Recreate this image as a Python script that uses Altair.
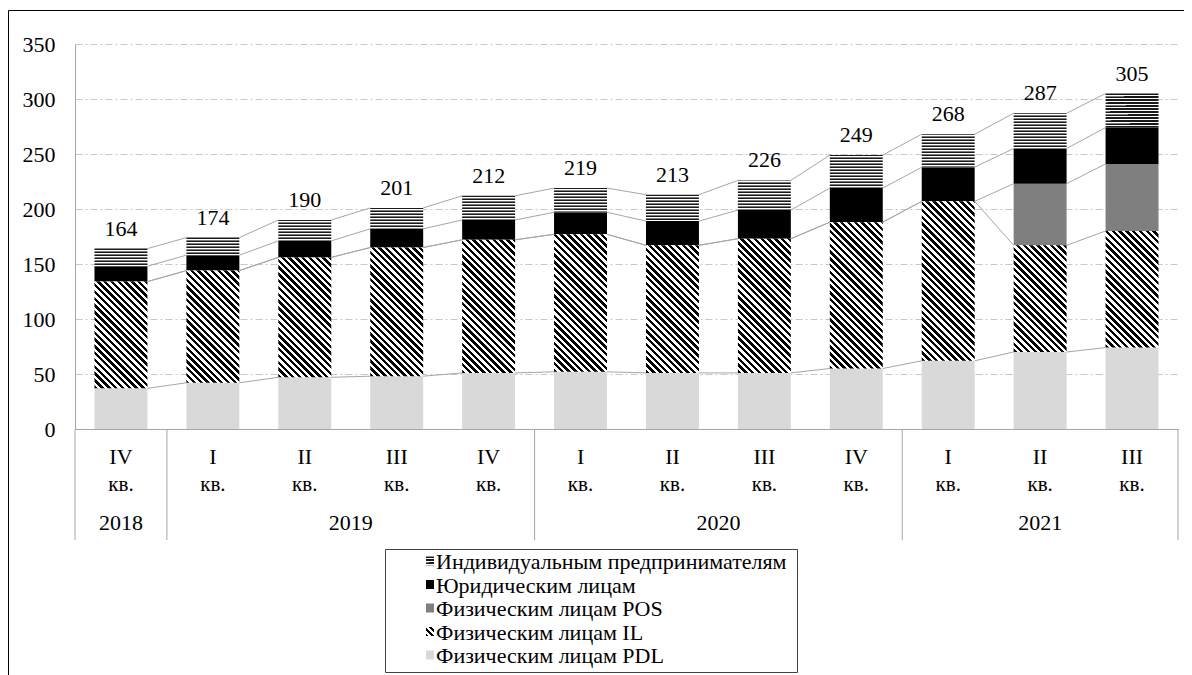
import math
import altair as alt
import pandas as pd

# ---------------- data ----------------
quarters = ["IV", "I", "II", "III", "IV", "I", "II", "III", "IV", "I", "II", "III"]
years = ["2018", "2019", "2019", "2019", "2019", "2020", "2020", "2020", "2020", "2021", "2021", "2021"]
pdl_values = [37, 42, 47, 48, 51, 52, 51, 51, 55, 62, 70, 74]
il_values = [97, 102, 109, 117, 121, 125, 116, 122, 133, 145, 97, 106]
pos_values = [0, 0, 0, 0, 0, 0, 0, 0, 0, 0, 56, 61]
legal_values = [14, 14, 15, 17, 18, 20, 22, 26, 31, 31, 32, 33]
ie_values = [16, 16, 19, 19, 22, 22, 24, 27, 30, 30, 32, 31]
total_labels = [164, 174, 190, 201, 212, 219, 213, 226, 249, 268, 287, 305]
series_names = [
    "Физическим лицам PDL",
    "Физическим лицам IL",
    "Физическим лицам POS",
    "Юридическим лицам",
    "Индивидуальным предпринимателям",
]
quarter_suffix = "кв."
y_ticks = [0, 50, 100, 150, 200, 250, 300, 350]

# ---------------- layout / style ----------------
W, H = 1103, 385
PAD = {"left": 67, "top": 36, "right": 6, "bottom": 246}
Y_MAX = 350
PX = H / Y_MAX
N = len(quarters)
HALF = 0.288
BAR_PX = 2 * HALF * W / N
FONT = "Liberation Serif, Times New Roman, serif"
FS = 22
LINE_GRAY = "#a6a6a6"
PDL_COLOR = "#d9d9d9"
POS_COLOR = "#7f7f7f"

xscale = alt.Scale(domain=[0, N], nice=False, zero=False)
yscale = alt.Scale(domain=[0, Y_MAX], nice=False, zero=True)


def stripe_stops(n_periods, pattern):
    stops = []
    for j in range(math.ceil(n_periods)):
        acc = j / n_periods
        for color, frac in pattern:
            end = acc + frac / n_periods
            stops.append({"offset": round(min(acc, 1.0), 5), "color": color})
            stops.append({"offset": round(min(end, 1.0), 5), "color": color})
            acc = end
    return stops


def diag_fill(w, h, period=4.8):
    # "\" stripes at 45 degrees for an objectBoundingBox linear gradient
    s = (w + h) / (w * w + h * h)
    n = (w + h) / math.sqrt(2) / period
    return {
        "gradient": "linear",
        "x1": 0, "y1": 1,
        "x2": round(w * s, 5), "y2": round(1 - h * s, 5),
        "stops": stripe_stops(n, [("#000000", 0.5), ("#ffffff", 0.5)]),
    }


def hline_fill(h, period=3.0):
    n = h / period
    return {
        "gradient": "linear",
        "x1": 0, "y1": 0, "x2": 0.00001, "y2": 1,
        "stops": stripe_stops(n, [("#1a1a1a", 0.34), ("#ffffff", 0.33), ("#7a7a7a", 0.33)]),
    }


# ---------------- tables ----------------
series_values = [pdl_values, il_values, pos_values, legal_values, ie_values]
rows = []
for i in range(N):
    lo = 0
    for name, vals in zip(series_names, series_values):
        v = vals[i]
        rows.append({"idx": i, "series": name, "lo": lo, "hi": lo + v, "value": v})
        lo += v
seg_df = pd.DataFrame(rows)
seg_df["xl"] = seg_df["idx"] + 0.5 - HALF
seg_df["xr"] = seg_df["idx"] + 0.5 + HALF

tops = seg_df.pivot(index="idx", columns="series", values="hi")
link_rows = []
for name in series_names:
    for i in range(N - 1):
        link_rows.append({
            "series": name,
            "xa": i + 0.5 + HALF, "xb": i + 1.5 - HALF,
            "ya": float(tops.loc[i, name]), "yb": float(tops.loc[i + 1, name]),
        })
link_df = pd.DataFrame(link_rows)

cat_df = pd.DataFrame({
    "idx": list(range(N)),
    "q": quarters,
    "year": years,
    "total": total_labels,
    "kv": [quarter_suffix] * N,
})
cat_df["xc"] = cat_df["idx"] + 0.5

sep_x = [0] + [i for i in range(1, N) if years[i] != years[i - 1]] + [N]
sep_df = pd.DataFrame({"xs": sep_x})
one_df = pd.DataFrame({"k": [0]})

# ---------------- axes ----------------
yaxis = alt.Axis(
    values=y_ticks, grid=True, gridColor="#c8c8c8", gridDash=[7, 3, 2, 3], gridWidth=1,
    domain=True, domainColor=LINE_GRAY, domainWidth=1, ticks=False, labelPadding=20,
    labelFont=FONT, labelFontSize=FS, labelColor="black", labelFlush=False,
    labelOverlap=False, title=None,
)
xaxis = alt.Axis(labels=False, ticks=False, grid=False, domain=True,
                 domainColor=LINE_GRAY, domainWidth=1, title=None)


def X(field):
    return alt.X(field, scale=xscale, axis=xaxis)


def Y(field):
    return alt.Y(field, scale=yscale, axis=yaxis)


def seg_enc():
    return dict(x=X("xl:Q"), x2="xr:Q", y=Y("lo:Q"), y2="hi:Q")


layers = []
seg_base = alt.Chart(seg_df)

layers.append(seg_base.mark_rect(fill=PDL_COLOR, strokeWidth=0)
              .transform_filter(alt.datum.series == series_names[0]).encode(**seg_enc()))
layers.append(seg_base.mark_rect(fill=POS_COLOR, strokeWidth=0)
              .transform_filter((alt.datum.series == series_names[2]) & (alt.datum.value > 0))
              .encode(**seg_enc()))
layers.append(seg_base.mark_rect(fill="#000000", strokeWidth=0)
              .transform_filter(alt.datum.series == series_names[3]).encode(**seg_enc()))

for i in range(N):
    h_il = il_values[i] * PX
    layers.append(seg_base.mark_rect(fill=diag_fill(BAR_PX, h_il), strokeWidth=0)
                  .transform_filter((alt.datum.series == series_names[1]) & (alt.datum.idx == i))
                  .encode(**seg_enc()))
    h_ie = ie_values[i] * PX
    layers.append(seg_base.mark_rect(fill=hline_fill(h_ie), strokeWidth=0)
                  .transform_filter((alt.datum.series == series_names[4]) & (alt.datum.idx == i))
                  .encode(**seg_enc()))

# connecting lines between bars
layers.append(alt.Chart(link_df).mark_rule(color=LINE_GRAY, strokeWidth=1).encode(
    x=X("xa:Q"), x2="xb:Q", y=Y("ya:Q"), y2="yb:Q",
))

# total labels
layers.append(alt.Chart(cat_df).mark_text(font=FONT, fontSize=FS, color="black",
                                          baseline="alphabetic", dy=-13).encode(
    x=X("xc:Q"), y=Y("total:Q"), text="total:Q",
))

# category axis (multi-level)
layers.append(alt.Chart(sep_df).mark_rule(color=LINE_GRAY, strokeWidth=1).encode(
    x=X("xs:Q"), y=alt.value(H), y2=alt.value(H + 111),
))
layers.append(alt.Chart(cat_df).mark_text(font=FONT, fontSize=FS, color="black",
                                          baseline="middle").encode(
    x=X("xc:Q"), y=alt.value(H + 28), text="q:N",
))
layers.append(alt.Chart(cat_df).mark_text(font=FONT, fontSize=FS - 1, color="black",
                                          baseline="middle").encode(
    x=X("xc:Q"), y=alt.value(H + 56), text="kv:N",
))
layers.append(alt.Chart(cat_df).transform_aggregate(
    xc="mean(xc)", groupby=["year"]
).mark_text(font=FONT, fontSize=FS, color="black", baseline="middle").encode(
    x=X("xc:Q"), y=alt.value(H + 94), text="year:N",
))

# outer frame
layers.append(alt.Chart(one_df).mark_rect(filled=False, stroke="black", strokeWidth=1).encode(
    x=alt.value(-66.5), x2=alt.value(1400), y=alt.value(-33.5), y2=alt.value(900),
))

# legend
LEG_X0, LEG_X1, LEG_Y0, LEG_Y1 = 310.5, 722.5, 505.5, 628.5
layers.append(alt.Chart(one_df).mark_rect(filled=False, stroke="#404040", strokeWidth=1).encode(
    x=alt.value(LEG_X0), x2=alt.value(LEG_X1), y=alt.value(LEG_Y0), y2=alt.value(LEG_Y1),
))
legend_fills = [PDL_COLOR, diag_fill(8, 9, period=4.0), POS_COLOR, "#000000", hline_fill(9, 3.0)]
for row, s_i in enumerate([4, 3, 2, 1, 0]):
    yc = 517 + 23.5 * row
    layers.append(alt.Chart(one_df).mark_rect(fill=legend_fills[s_i], strokeWidth=0).encode(
        x=alt.value(351), x2=alt.value(359), y=alt.value(yc - 4.5), y2=alt.value(yc + 4.5),
    ))
    layers.append(alt.Chart(one_df).mark_text(
        text=series_names[s_i], font=FONT, fontSize=FS, color="black",
        align="left", baseline="middle",
    ).encode(x=alt.value(361), y=alt.value(yc + 1)))

chart = alt.layer(*layers).properties(
    width=W, height=H, padding=PAD,
    autosize=alt.AutoSizeParams(type="none"),
    background="white",
).configure_view(stroke=None)

chart.save("out.html", embed_options={"renderer": "svg", "actions": False})
